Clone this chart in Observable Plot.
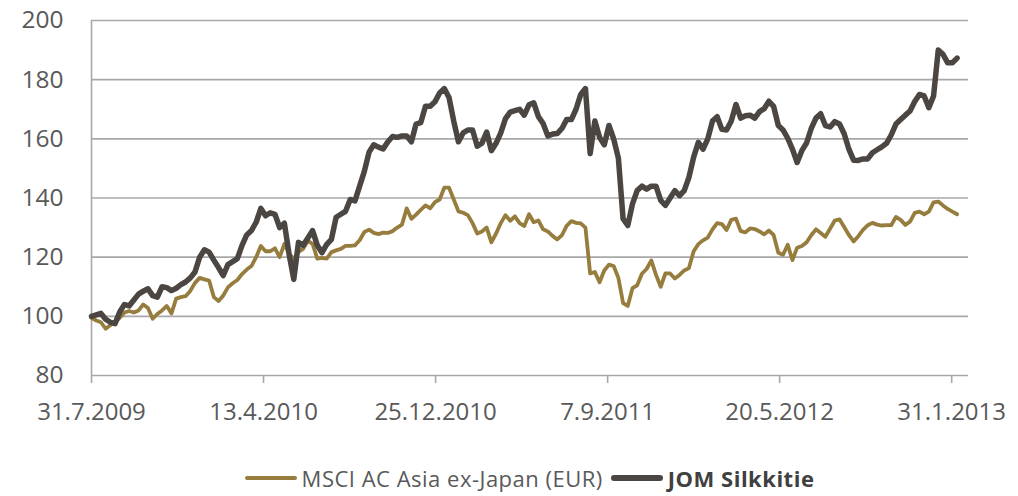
<!DOCTYPE html>
<html>
<head>
<meta charset="utf-8">
<script src="https://cdn.jsdelivr.net/npm/d3@7"></script>
<script src="https://cdn.jsdelivr.net/npm/@observablehq/plot@0.6"></script>
<style>
  body { margin: 0; background: #ffffff; font-family: "Open Sans", sans-serif; overflow: hidden; }
  #chart { width: 1018px; height: 460px; }
  #legend { position: absolute; left: 91px; top: 464px; width: 877px; height: 28px; line-height: 28px;
            display: flex; justify-content: center; align-items: center; font-size: 22px;
            letter-spacing: 0.5px; color: #595959; }
  .item { display: flex; align-items: center; }
  .swatch { display: inline-block; width: 52px; margin-right: 5px; border-radius: 3px; }
  .bold { font-weight: 700; color: #404040; }
</style>
</head>
<body>
<div id="chart"></div>
<div id="legend"></div>
<script>
// ---- data (weekly values, first week = 31.7.2009) ----
const startDate = "2009-07-31";
const seriesNames = ["MSCI AC Asia ex-Japan (EUR)", "JOM Silkkitie"];
const seriesColors = ["#967d3e", "#4b4641"];
const msci = [
  99.5, 98.6, 98, 95.8, 97, 98, 99.5, 101.3, 101.8, 101.3,
  102, 104, 102.8, 99.2, 100.8, 102, 103.5, 101, 106, 106.5,
  106.8, 108.6, 111.3, 113, 112.5, 112.1, 106.5, 105.2, 107, 109.8,
  111.2, 112.3, 114.3, 115.8, 117, 120, 123.8, 122, 122, 123,
  120, 124.5, 121.3, 119.3, 121.8, 122.8, 125.5, 124.5, 119.5, 119.8,
  119.5, 121.7, 122.3, 122.8, 123.8, 123.8, 124, 125.7, 128.5, 129.3,
  128.2, 127.8, 128.3, 128.2, 128.8, 130, 131, 136.5, 133, 134.4,
  136, 137.5, 136.5, 138.6, 139.5, 143.5, 143.5, 139.5, 135.5, 135,
  134.2, 131.5, 128, 128.7, 130, 125, 128, 131.5, 134.2, 132.3,
  133.8, 131.5, 130.5, 134.5, 131.8, 132.4, 129.4, 128.7, 127.2, 126,
  127.4, 130.6, 132.2, 131.6, 131.4, 130, 114.5, 115, 111.5, 115.5,
  117.5, 117, 113, 104.5, 103.5, 109.5, 110.5, 114.4, 116, 118.9,
  114, 110, 114.5, 114.5, 112.8, 114, 115.5, 116.3, 122, 124.4,
  125.7, 126.6, 129.4, 131.5, 131.2, 129.2, 132.6, 133, 128.8, 128.4,
  129.7, 129.5, 128.7, 127.7, 129, 127.5, 121.5, 120.8, 124.2, 119,
  123.2, 123.8, 125, 127.4, 129.4, 128.2, 126.9, 129.6, 132.4, 132.8,
  130.2, 127.5, 125.3, 127.1, 129.2, 130.8, 131.6, 131, 130.7, 130.8,
  130.8, 133.6, 132.6, 130.9, 132, 135, 135.4, 134.5, 135.4, 138.5,
  138.8, 137.5, 136.3, 135.4, 134.5
];
const jom = [
  100, 100.5, 101, 99, 98, 97.5, 101.5, 104, 103.5, 105.5,
  107.5, 108.5, 109.3, 107, 106.5, 110, 109.7, 108.7, 109.5, 110.7,
  111.6, 113, 115, 120, 122.5, 121.7, 119, 116.5, 113.8, 117.5,
  118.5, 119.5, 124, 127.5, 129, 131.8, 136.5, 134, 135, 134.5,
  130, 131.5, 121, 112.5, 125, 124, 126.5, 129, 124, 121.5,
  124.3, 126, 133.5, 134.5, 135.5, 139.5, 139, 144, 149, 155.5,
  158, 157.2, 156.6, 159, 160.8, 160.5, 161, 161, 159, 165,
  165.5, 171, 171, 172.5, 175.5, 177, 174, 166, 159, 162,
  163, 163, 157.5, 158.5, 162.3, 156, 158.5, 162, 166.8, 169,
  169.5, 170, 168, 171.5, 172.2, 167.5, 165.2, 161, 161.6, 161.8,
  163.5, 166.5, 166.5, 170, 175, 177, 155, 166, 160.5, 158,
  164.5, 160, 153.5, 133, 130.7, 138, 142.5, 144, 143, 144,
  144, 139.2, 137.5, 140, 142.5, 140.8, 142.5, 147, 153.8, 158.8,
  156.5, 160, 166, 167.5, 163.2, 163, 166, 171.6, 167, 167.8,
  168, 167, 169.2, 170.2, 172.7, 171, 164.5, 163, 160.2, 156.5,
  152, 156, 158.6, 163.5, 167, 168.5, 164.5, 164, 165.8, 165,
  161.7, 156.5, 152.8, 152.7, 153.2, 153.2, 155.3, 156.3, 157.3, 158.5,
  161.3, 165, 166.5, 168, 169.4, 172.6, 175, 174.5, 170.5, 174.5,
  190, 188.6, 185.7, 185.7, 187.3
];
const yTicks = [80, 100, 120, 140, 160, 180, 200];
const xTickDates = ["2009-07-31", "2010-04-13", "2010-12-25", "2011-09-07", "2012-05-20", "2013-01-31"];
const xDomainEnd = "2013-02-25";

// ---- build ----
const start = new Date(startDate + "T00:00:00Z");
const dates = msci.map((_, i) => d3.utcDay.offset(start, 7 * i));
const rows = [
  ...msci.map((v, i) => ({date: dates[i], value: v, series: seriesNames[0]})),
  ...jom.map((v, i) => ({date: dates[i], value: v, series: seriesNames[1]}))
];
const ticks = xTickDates.map(s => new Date(s + "T00:00:00Z"));
const fmt = d3.utcFormat("%-d.%-m.%Y");
const grey = "#a8a8a8";
const textColor = "#595959";

const chart = Plot.plot({
  width: 1018,
  height: 460,
  marginLeft: 91,
  marginRight: 50,
  marginTop: 20,
  marginBottom: 85,
  style: {fontFamily: "'Open Sans', sans-serif", background: "#ffffff"},
  x: {type: "utc", domain: [start, new Date(xDomainEnd + "T00:00:00Z")]},
  y: {domain: [80, 200]},
  marks: [
    Plot.gridY(yTicks, {stroke: grey, strokeOpacity: 1, strokeWidth: 1.6}),
    Plot.ruleX([start], {y1: 80, y2: 200, stroke: grey, strokeWidth: 1.6}),
    Plot.axisX(ticks, {tickSize: 8, tickPadding: 19, tickFormat: fmt, fontSize: 24, fill: textColor,
                       stroke: grey, strokeWidth: 1.6, label: null}),
    Plot.axisY(yTicks, {tickSize: 0, tickPadding: 28, fontSize: 24.5, fill: textColor, label: null}),
    Plot.lineY(rows.filter(d => d.series === seriesNames[0]),
      {x: "date", y: "value", stroke: seriesColors[0], strokeWidth: 3.8, strokeLinejoin: "round", strokeLinecap: "round"}),
    Plot.lineY(rows.filter(d => d.series === seriesNames[1]),
      {x: "date", y: "value", stroke: seriesColors[1], strokeWidth: 5.5, strokeLinejoin: "round", strokeLinecap: "round"})
  ]
});
document.getElementById("chart").appendChild(chart);

// ---- legend ----
const legend = document.getElementById("legend");
seriesNames.forEach((name, i) => {
  const item = document.createElement("span");
  item.className = "item";
  item.style.marginRight = i === 0 ? "8px" : "0";
  const sw = document.createElement("span");
  sw.className = "swatch";
  sw.style.height = i === 0 ? "4px" : "6px";
  sw.style.background = seriesColors[i];
  const t = document.createElement("span");
  t.textContent = name;
  if (i === 1) t.className = "bold";
  item.appendChild(sw);
  item.appendChild(t);
  legend.appendChild(item);
});
</script>
</body>
</html>
